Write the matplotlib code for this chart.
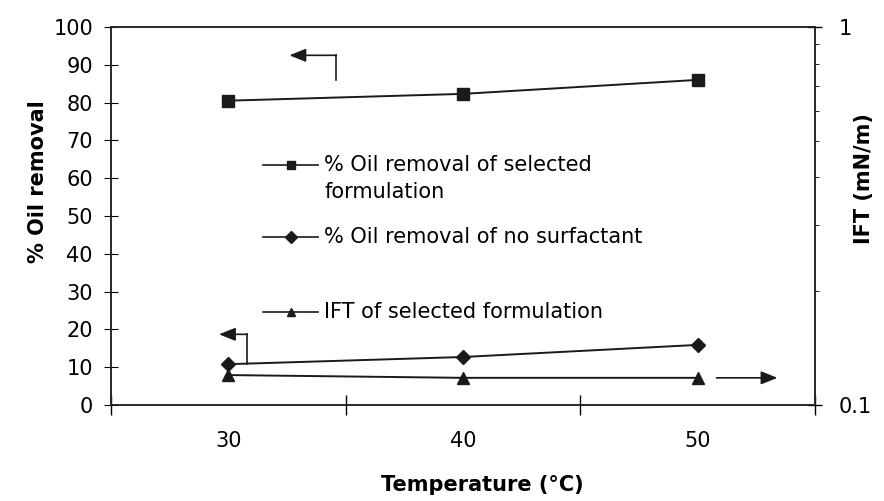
import matplotlib.pyplot as plt
from matplotlib.lines import Line2D
from matplotlib.ticker import FixedLocator, NullFormatter, LogLocator

# Oil removal and IFT against temperature
temperature = [30, 40, 50]
oil_removal_selected = [80.5, 82.3, 86.0]
oil_removal_no_surfactant = [10.8, 12.7, 15.9]
ift_selected = [0.120, 0.118, 0.118]

legend_labels = ['% Oil removal of selected\nformulation',
                 '% Oil removal of no surfactant',
                 'IFT of selected formulation']

plt.rcParams['font.family'] = 'DejaVu Sans'
FS = 15

fig = plt.figure(figsize=(8.84, 5.01), dpi=100)
ax = fig.add_axes([0.1256, 0.1916, 0.7964, 0.7546])
ax2 = ax.twinx()

ax.plot(temperature, oil_removal_selected, color='#1a1a1a', lw=1.4,
        marker='s', ms=8)
ax.plot(temperature, oil_removal_no_surfactant, color='#1a1a1a', lw=1.4,
        marker='D', ms=7.5)
ax2.plot(temperature, ift_selected, color='#1a1a1a', lw=1.4,
         marker='^', ms=8)

ax.set_xlim(25, 55)
ax.set_ylim(0, 100)
ax2.set_yscale('log')
ax2.set_ylim(0.1, 1)

# x: tick marks between categories, labels under the categories
ax.xaxis.set_major_locator(FixedLocator([25, 35, 45, 55]))
ax.xaxis.set_major_formatter(NullFormatter())
ax.xaxis.set_minor_locator(FixedLocator(temperature))
ax.set_xticklabels([str(t) for t in temperature], minor=True)
ax.tick_params(axis='x', which='major', direction='inout', length=14, width=1)
ax.tick_params(axis='x', which='minor', length=0, pad=19, labelsize=FS)

ax.set_yticks(range(0, 101, 10))
ax.tick_params(axis='y', direction='inout', length=10, width=0.8, pad=8,
               labelsize=FS)

ax2.yaxis.set_major_locator(FixedLocator([0.1, 1]))
ax2.set_yticklabels(['0.1', '1'])
ax2.yaxis.set_minor_locator(LogLocator(base=10, subs=range(2, 10)))
ax2.yaxis.set_minor_formatter(NullFormatter())
ax2.tick_params(axis='y', which='major', direction='inout', length=10,
                width=1, pad=12, labelsize=FS)
ax2.tick_params(axis='y', which='minor', direction='out', length=3, width=0.6)

for a in (ax, ax2):
    for s in a.spines.values():
        s.set_linewidth(1.1)
        s.set_color('#222222')

ax.set_ylabel('% Oil removal', fontsize=FS, fontweight='bold')
ax.yaxis.set_label_coords(-0.09, 0.59)
ax2.set_ylabel('IFT (mN/m)', fontsize=FS, fontweight='bold')
ax2.yaxis.set_label_coords(1.055, 0.6)
ax.set_xlabel('Temperature (°C)', fontsize=FS, fontweight='bold')
ax.xaxis.set_label_coords(0.527, -0.185)

# hand drawn legend inside the plot
markers = ['s', 'D', '^']
rows_y = [0.634, 0.445, 0.245]
for m, y, lab in zip(markers, rows_y, legend_labels):
    ax.add_line(Line2D([0.216, 0.294], [y, y], transform=ax.transAxes,
                       color='#1a1a1a', lw=1.2))
    ax.add_line(Line2D([0.255], [y], transform=ax.transAxes, color='#1a1a1a',
                       marker=m, ms=6))
    ax.text(0.303, y + 0.027, lab, transform=ax.transAxes, fontsize=FS,
            va='top', ha='left', linespacing=1.45)

# arrows pointing at the axis each series belongs to
arrow_kw = dict(arrowstyle='-|>,head_length=1.0,head_width=0.4',
                color='#1a1a1a', lw=1.2, shrinkA=0, shrinkB=0)
ax.plot([34.6, 34.6], [86, 92.5], color='#1a1a1a', lw=1.2)
ax.annotate('', xy=(32.6, 92.5), xytext=(34.6, 92.5), arrowprops=arrow_kw)
ax.plot([30.8, 30.8], [10.8, 18.7], color='#1a1a1a', lw=1.2)
ax.annotate('', xy=(29.6, 18.7), xytext=(30.8, 18.7), arrowprops=arrow_kw)
ax2.annotate('', xy=(53.4, 0.118), xytext=(50.8, 0.118), arrowprops=arrow_kw)

fig.savefig('out.png', dpi=100)
